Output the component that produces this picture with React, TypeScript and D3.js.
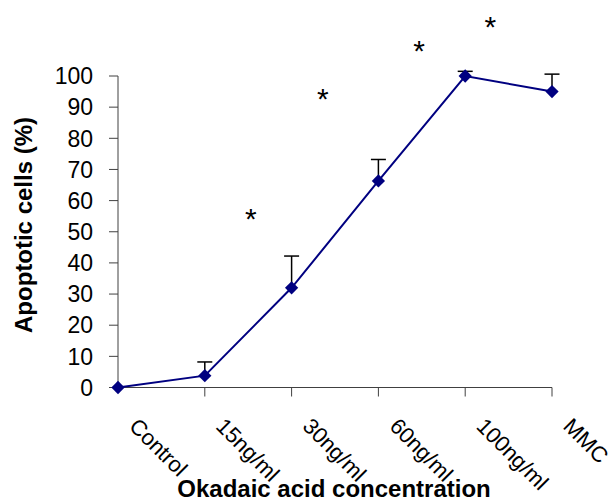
import React, { useEffect, useRef } from "react";
import * as d3 from "d3";

const categories = ["Control", "15ng/ml", "30ng/ml", "60ng/ml", "100ng/ml", "MMC"];
const apoptosis = [0, 3.8, 32, 66.3, 100, 95];
const errorUpper = [0, 8.2, 42.2, 73.2, 101.5, 100.6];
const yTicks = [0, 10, 20, 30, 40, 50, 60, 70, 80, 90, 100];
// Significance marks, placed in category-index / percent units
const starX = [1.53, 2.36, 3.47, 4.29];
const starY = [56.8, 95.3, 110.7, 118.4];

const W = 616;
const H = 502;
const FONT = "'Liberation Sans', Arial, sans-serif";

export default function App() {
  const ref = useRef<SVGSVGElement>(null);

  useEffect(() => {
    const svg = d3.select(ref.current);
    svg.selectAll("*").remove();

    const x = d3.scaleLinear().domain([0, categories.length - 1]).range([118, 552]);
    const y = d3.scaleLinear().domain([0, 100]).range([387.5, 76]);
    const axisColor = "#404040";

    // Y axis
    svg.append("line")
      .attr("x1", 118).attr("x2", 118)
      .attr("y1", y(0)).attr("y2", y(100))
      .attr("stroke", axisColor).attr("stroke-width", 1);
    yTicks.forEach((t) => {
      svg.append("line")
        .attr("x1", 109).attr("x2", 118)
        .attr("y1", y(t)).attr("y2", y(t))
        .attr("stroke", axisColor);
      svg.append("text")
        .attr("x", 93).attr("y", y(t))
        .attr("dy", "0.36em")
        .attr("text-anchor", "end")
        .attr("font-family", FONT)
        .attr("font-size", 23)
        .text(String(t));
    });

    // X axis
    svg.append("line")
      .attr("x1", x(0)).attr("x2", x(categories.length - 1))
      .attr("y1", y(0)).attr("y2", y(0))
      .attr("stroke", axisColor);
    categories.forEach((c, i) => {
      if (i > 0) {
        svg.append("line")
          .attr("x1", x(i)).attr("x2", x(i))
          .attr("y1", y(0)).attr("y2", y(0) + 9)
          .attr("stroke", axisColor);
      }
      svg.append("text")
        .attr("transform", `translate(${x(i) + 10},${y(0) + 40}) rotate(45)`)
        .attr("font-family", FONT)
        .attr("font-size", 22)
        .text(c);
    });

    // Error bars (upper only)
    categories.forEach((_, i) => {
      if (errorUpper[i] <= apoptosis[i]) return;
      svg.append("line")
        .attr("x1", x(i)).attr("x2", x(i))
        .attr("y1", y(apoptosis[i])).attr("y2", y(errorUpper[i]))
        .attr("stroke", "#000").attr("stroke-width", 1.5);
      svg.append("line")
        .attr("x1", x(i) - 7.5).attr("x2", x(i) + 7.5)
        .attr("y1", y(errorUpper[i])).attr("y2", y(errorUpper[i]))
        .attr("stroke", "#000").attr("stroke-width", 1.5);
    });

    // Series line
    const line = d3.line<number>().x((_, i) => x(i)).y((d) => y(d));
    svg.append("path")
      .attr("d", line(apoptosis))
      .attr("fill", "none")
      .attr("stroke", "#000080")
      .attr("stroke-width", 2);

    // Diamond markers
    const diamond = d3.symbol().type(d3.symbolSquare).size(88)();
    apoptosis.forEach((v, i) => {
      svg.append("path")
        .attr("d", diamond)
        .attr("transform", `translate(${x(i)},${y(v)}) rotate(45)`)
        .attr("fill", "#000080");
    });

    // Significance asterisks
    starX.forEach((sx, i) => {
      svg.append("text")
        .attr("x", x(sx)).attr("y", y(starY[i]))
        .attr("dy", "0.62em")
        .attr("text-anchor", "middle")
        .attr("font-family", FONT)
        .attr("font-size", 30)
        .text("*");
    });

    // Axis titles
    svg.append("text")
      .attr("transform", `translate(32,225) rotate(-90)`)
      .attr("text-anchor", "middle")
      .attr("font-family", FONT)
      .attr("font-weight", "bold")
      .attr("font-size", 24)
      .text("Apoptotic cells (%)");
    svg.append("text")
      .attr("x", 334).attr("y", 497)
      .attr("text-anchor", "middle")
      .attr("font-family", FONT)
      .attr("font-weight", "bold")
      .attr("font-size", 24)
      .text("Okadaic acid concentration");
  }, []);

  return (
    <svg
      ref={ref}
      width={W}
      height={H}
      style={{ position: "absolute", left: 0, top: 0, background: "#fff" }}
    />
  );
}
